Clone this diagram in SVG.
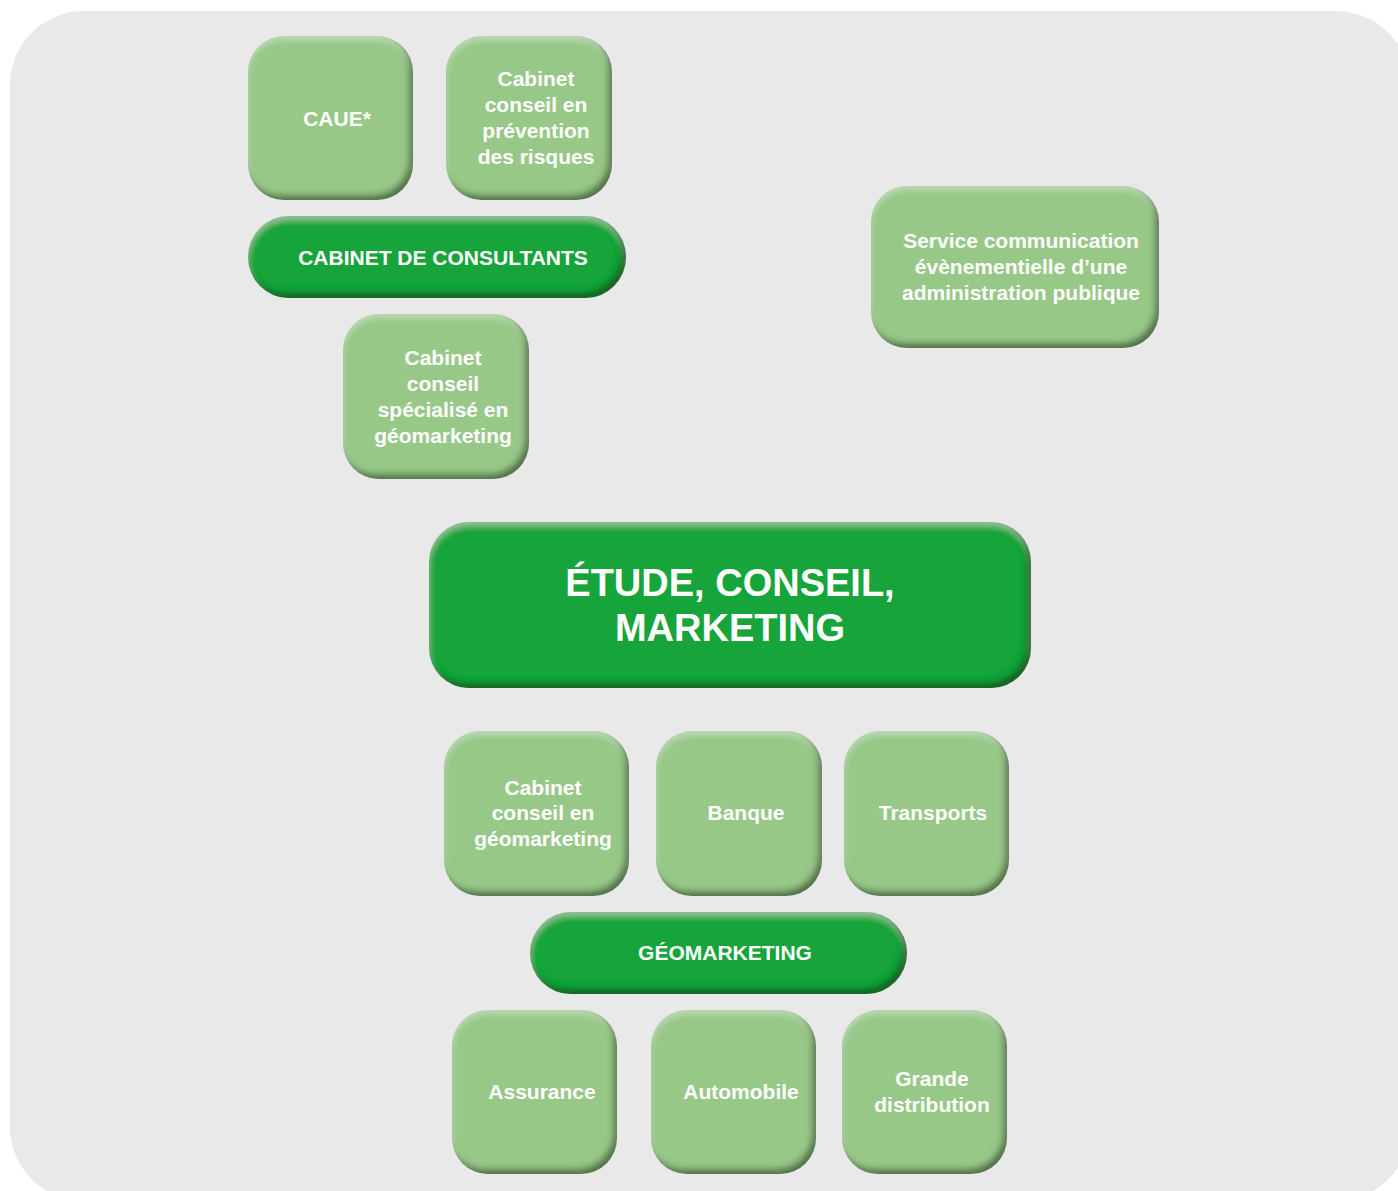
<svg xmlns="http://www.w3.org/2000/svg" width="1398" height="1191" viewBox="0 0 1398 1191">
<defs>
<style>
.lt{fill:#97c887}
.dk{fill:#17a43a}
text{font-family:"Liberation Sans",Arial,Helvetica,sans-serif;font-weight:bold;fill:#ffffff;text-anchor:middle}
.s{font-size:21px}
.b{font-size:38px}
</style>
<filter id="bevel" x="-5%" y="-5%" width="110%" height="110%">
<feGaussianBlur in="SourceAlpha" stdDeviation="3" result="b"/>
<feOffset in="b" dx="-4" dy="-5" result="o"/>
<feComposite in="SourceAlpha" in2="o" operator="out" result="edge"/>
<feFlood flood-color="#0f2a0c" flood-opacity="0.75"/>
<feComposite in2="edge" operator="in" result="shadow"/>
<feOffset in="b" dx="0" dy="4" result="o2"/>
<feComposite in="SourceAlpha" in2="o2" operator="out" result="edge2"/>
<feFlood flood-color="#ffffff" flood-opacity="0.3"/>
<feComposite in2="edge2" operator="in" result="hl"/>
<feMerge><feMergeNode in="SourceGraphic"/><feMergeNode in="hl"/><feMergeNode in="shadow"/></feMerge>
</filter>
</defs>
<rect x="0" y="0" width="1398" height="1191" fill="#ffffff"/>
<rect x="10" y="11" width="1400" height="1190" rx="74" fill="#e9e9e9"/>
<g id="connectors"></g>
<g id="caue"><rect class="lt" x="248" y="36" width="165" height="164" rx="36" filter="url(#bevel)"/><text class="s" x="337" y="126">CAUE*</text></g>
<g id="prevention"><rect class="lt" x="446" y="36" width="166" height="164" rx="36" filter="url(#bevel)"/><text class="s" x="536" y="86">Cabinet</text><text class="s" x="536" y="112">conseil en</text><text class="s" x="536" y="138">prévention</text><text class="s" x="536" y="164">des risques</text></g>
<g id="consultants"><rect class="dk" x="248" y="216" width="378" height="82" rx="41" filter="url(#bevel)"/><text class="s" x="443" y="265">CABINET DE CONSULTANTS</text></g>
<g id="specialise"><rect class="lt" x="343" y="314" width="186" height="165" rx="36" filter="url(#bevel)"/><text class="s" x="443" y="365">Cabinet</text><text class="s" x="443" y="391">conseil</text><text class="s" x="443" y="417">spécialisé en</text><text class="s" x="443" y="443">géomarketing</text></g>
<g id="service"><rect class="lt" x="871" y="186" width="288" height="162" rx="36" filter="url(#bevel)"/><text class="s" x="1021" y="248">Service communication</text><text class="s" x="1021" y="274">évènementielle d’une</text><text class="s" x="1021" y="300">administration publique</text></g>
<g id="etude"><rect class="dk" x="429" y="522" width="602" height="166" rx="40" filter="url(#bevel)"/><text class="b" x="730" y="596">ÉTUDE, CONSEIL,</text><text class="b" x="730" y="641">MARKETING</text></g>
<g id="geocabinet"><rect class="lt" x="444" y="731" width="185" height="165" rx="36" filter="url(#bevel)"/><text class="s" x="543" y="795">Cabinet</text><text class="s" x="543" y="820">conseil en</text><text class="s" x="543" y="846">géomarketing</text></g>
<g id="banque"><rect class="lt" x="656" y="731" width="166" height="165" rx="36" filter="url(#bevel)"/><text class="s" x="746" y="820">Banque</text></g>
<g id="transports"><rect class="lt" x="844" y="731" width="165" height="165" rx="36" filter="url(#bevel)"/><text class="s" x="933" y="820">Transports</text></g>
<g id="geomarketing"><rect class="dk" x="530" y="912" width="377" height="82" rx="41" filter="url(#bevel)"/><text class="s" x="725" y="960">GÉOMARKETING</text></g>
<g id="assurance"><rect class="lt" x="452" y="1010" width="165" height="164" rx="36" filter="url(#bevel)"/><text class="s" x="542" y="1099">Assurance</text></g>
<g id="automobile"><rect class="lt" x="651" y="1010" width="165" height="164" rx="36" filter="url(#bevel)"/><text class="s" x="741" y="1099">Automobile</text></g>
<g id="grande"><rect class="lt" x="842" y="1010" width="165" height="164" rx="36" filter="url(#bevel)"/><text class="s" x="932" y="1086">Grande</text><text class="s" x="932" y="1112">distribution</text></g>
</svg>
